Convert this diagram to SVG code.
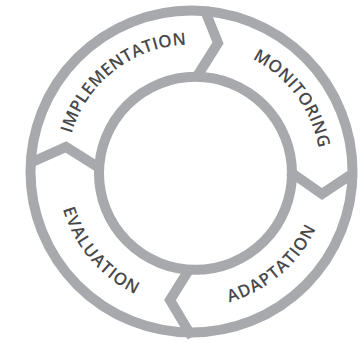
<svg xmlns="http://www.w3.org/2000/svg" width="364" height="343" viewBox="0 0 364 343">
<style>
.ring{fill:none;stroke:#a7a9ac;stroke-width:10}
.sep{fill:none;stroke:#a7a9ac;stroke-width:10;stroke-linejoin:miter;stroke-linecap:butt}
.lbl{font-family:"Open Sans","Liberation Sans",sans-serif;font-size:17px;font-weight:600;fill:#48484a;letter-spacing:0.3px}
.lblb{letter-spacing:1px}
</style>
<defs>
<path id="pImp" d="M68.1,188.9 A124,124 0 0 1 240.8,55.4"/>
<path id="pMon" d="M178.7,46.8 A124,124 0 0 1 308.6,222.2"/>
<path id="pAda" d="M147.8,300.3 A137,137 0 0 0 326.7,147"/>
<path id="pEva" d="M64.8,126.6 A137,137 0 0 0 217.8,305.7"/>
</defs>
<g id="rings">
<circle class="ring" cx="191.5" cy="171.5" r="161"/>
<circle class="ring" cx="195.5" cy="173.3" r="96.5"/>
</g>
<g id="connectors">
<polyline class="sep" points="196,78 218,43 204,8"/>
<polyline class="sep" points="289,171 322,194 355,172"/>
<polyline class="sep" points="190,268 170,300 192,337"/>
<polyline class="sep" points="101,169 66,147 30,163"/>
</g>
<g id="implementation"><text class="lbl"><textPath href="#pImp" startOffset="50%" text-anchor="middle">IMPLEMENTATION</textPath></text></g>
<g id="monitoring"><text class="lbl"><textPath href="#pMon" startOffset="50%" text-anchor="middle">MONITORING</textPath></text></g>
<g id="adaptation"><text class="lbl lblb"><textPath href="#pAda" startOffset="50%" text-anchor="middle">ADAPTATION</textPath></text></g>
<g id="evaluation"><text class="lbl lblb"><textPath href="#pEva" startOffset="50%" text-anchor="middle">EVALUATION</textPath></text></g>
</svg>
